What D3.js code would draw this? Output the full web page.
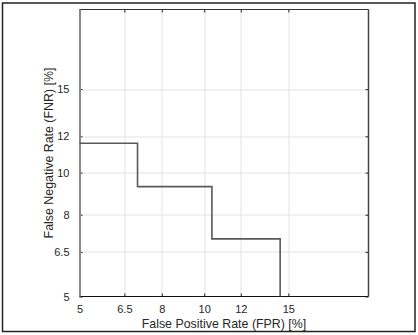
<!DOCTYPE html>
<html>
<head>
<meta charset="utf-8">
<script src="https://cdn.jsdelivr.net/npm/d3@7"></script>
<style>
  body { margin: 0; background: #fff; }
  text { font-family: "Liberation Sans", Arial, sans-serif; fill: #262626; }
</style>
</head>
<body>
<div id="chart"></div>
<script>
// tick values in percent (probit / normal deviate axes)
const xTicks = [5, 6.5, 8, 10, 12, 15]
const yTicks = [5, 6.5, 8, 10, 12, 15]
const axisLimits = [5, 21.1]

// DET curve step points (FPR %, FNR %)
const fprValues = [5, 7.0, 10.4, 14.45]
const fnrValues = [11.6, 9.3, 7.0, 5.0]

const dms = {
    width: 418,
    height: 335,
    margin: { top: 9.5, right: 49.5, bottom: 38.5, left: 79.5 }
}
dms.chartWidth = dms.width - dms.margin.left - dms.margin.right
dms.chartHeight = dms.height - dms.margin.top - dms.margin.bottom

// inverse normal cdf (Acklam)
const probit = p => {
    const a = [-39.69683028665376, 220.9460984245205, -275.9285104469687, 138.3577518672690, -30.66479806614716, 2.506628277459239]
    const b = [-54.47609879822406, 161.5858368580409, -155.6989798598866, 66.80131188771972, -13.28068155288572]
    const c = [-0.007784894002430293, -0.3223964580411365, -2.400758277161838, -2.549732539343734, 4.374664141464968, 2.938163982698783]
    const d = [0.007784695709041462, 0.3224671290700398, 2.445134137142996, 3.754408661907416]
    const pl = 0.02425
    let q, r
    if (p < pl) {
        q = Math.sqrt(-2 * Math.log(p))
        return (((((c[0]*q+c[1])*q+c[2])*q+c[3])*q+c[4])*q+c[5]) / ((((d[0]*q+d[1])*q+d[2])*q+d[3])*q+1)
    } else if (p <= 1 - pl) {
        q = p - 0.5; r = q * q
        return (((((a[0]*r+a[1])*r+a[2])*r+a[3])*r+a[4])*r+a[5])*q / (((((b[0]*r+b[1])*r+b[2])*r+b[3])*r+b[4])*r+1)
    }
    q = Math.sqrt(-2 * Math.log(1 - p))
    return -(((((c[0]*q+c[1])*q+c[2])*q+c[3])*q+c[4])*q+c[5]) / ((((d[0]*q+d[1])*q+d[2])*q+d[3])*q+1)
}
const dev = pct => probit(pct / 100)

const svg = d3.select('#chart').append('svg')
    .attr('width', dms.width)
    .attr('height', dms.height)

// outer frame
svg.append('rect')
    .attr('x', 2.5).attr('y', 3)
    .attr('width', 412.5).attr('height', 328.5)
    .attr('fill', 'none')
    .attr('stroke', '#222')
    .attr('stroke-width', 1.5)

const content = svg.append('g')
    .attr('transform', `translate(${dms.margin.left},${dms.margin.top})`)

const xScale = d3.scaleLinear()
    .domain(axisLimits.map(dev))
    .range([0, dms.chartWidth])
const yScale = d3.scaleLinear()
    .domain(axisLimits.map(dev))
    .range([dms.chartHeight, 0])

// grid
content.append('g').selectAll('line')
    .data(xTicks.slice(1))
    .join('line')
    .attr('x1', d => Math.round(xScale(dev(d))) + 0.5)
    .attr('x2', d => Math.round(xScale(dev(d))) + 0.5)
    .attr('y1', 0).attr('y2', dms.chartHeight)
    .attr('stroke', '#e3e3e3')
content.append('g').selectAll('line')
    .data(yTicks.slice(1))
    .join('line')
    .attr('y1', d => Math.round(yScale(dev(d))) + 0.5)
    .attr('y2', d => Math.round(yScale(dev(d))) + 0.5)
    .attr('x1', 0).attr('x2', dms.chartWidth)
    .attr('stroke', '#e3e3e3')

// axes (ticks inward, on all four sides)
const fmt = (ticks) => (d, i) => ticks[i]
const styleAxis = g => {
    g.select('.domain').remove()
    g.selectAll('.tick line').attr('stroke', '#262626')
    g.selectAll('.tick text').style('font-size', '11px').attr('fill', '#262626')
}

content.append('g')
    .attr('transform', `translate(0,${dms.chartHeight})`)
    .call(d3.axisBottom(xScale).tickValues(xTicks.map(dev)).tickFormat(fmt(xTicks))
        .tickSizeInner(-3).tickSizeOuter(0).tickPadding(9))
    .call(styleAxis)
content.append('g')
    .call(d3.axisTop(xScale).tickValues(xTicks.map(dev)).tickFormat('')
        .tickSizeInner(-3).tickSizeOuter(0))
    .call(styleAxis)
content.append('g')
    .call(d3.axisLeft(yScale).tickValues(yTicks.map(dev)).tickFormat(fmt(yTicks))
        .tickSizeInner(-3).tickSizeOuter(0).tickPadding(10))
    .call(styleAxis)
content.append('g')
    .attr('transform', `translate(${dms.chartWidth},0)`)
    .call(d3.axisRight(yScale).tickValues(yTicks.map(dev)).tickFormat('')
        .tickSizeInner(-3).tickSizeOuter(0))
    .call(styleAxis)

// box
content.append('line').attr('x1', 0).attr('x2', dms.chartWidth).attr('y1', 0).attr('y2', 0)
    .attr('stroke', '#333')
content.append('line').attr('x1', 0).attr('x2', dms.chartWidth)
    .attr('y1', dms.chartHeight).attr('y2', dms.chartHeight)
    .attr('stroke', '#111')
content.append('line').attr('x1', dms.chartWidth).attr('x2', dms.chartWidth)
    .attr('y1', 0).attr('y2', dms.chartHeight)
    .attr('stroke', '#444').attr('stroke-width', 1.5)
content.append('line').attr('x1', 0.5).attr('x2', 0.5)
    .attr('y1', 0).attr('y2', dms.chartHeight)
    .attr('stroke', '#888').attr('stroke-width', 2)

// DET curve
const line = d3.line()
    .x((d, i) => xScale(dev(fprValues[i])))
    .y((d, i) => yScale(dev(fnrValues[i])))
    .curve(d3.curveStepAfter)
content.append('path')
    .attr('d', line(fprValues))
    .attr('fill', 'none')
    .attr('stroke', '#5a5a5a')
    .attr('stroke-width', 1.6)

// labels
svg.append('text')
    .attr('x', dms.margin.left + dms.chartWidth / 2)
    .attr('y', 327.5)
    .attr('text-anchor', 'middle')
    .style('font-size', '12.4px')
    .text('False Positive Rate (FPR) [%]')
svg.append('text')
    .attr('transform', `translate(53,${dms.margin.top + dms.chartHeight / 2}) rotate(-90)`)
    .attr('text-anchor', 'middle')
    .style('font-size', '12.4px')
    .text('False Negative Rate (FNR) [%]')
</script>
</body>
</html>
